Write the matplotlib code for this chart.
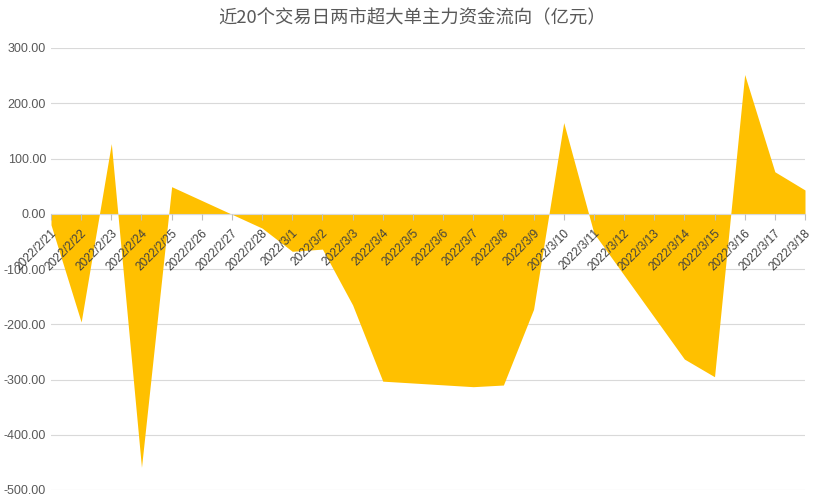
import datetime as dt
import matplotlib
matplotlib.use("Agg")
import matplotlib.pyplot as plt
import matplotlib.dates as mdates
from matplotlib.ticker import FuncFormatter
from matplotlib.transforms import ScaledTranslation

plt.rcParams['font.family'] = ['Liberation Sans', 'Noto Sans CJK SC', 'DejaVu Sans']

# 交易日与超大单净流入（亿元）
trade_days = ["2022-02-21", "2022-02-22", "2022-02-23", "2022-02-24", "2022-02-25",
              "2022-02-28", "2022-03-01", "2022-03-02", "2022-03-03", "2022-03-04",
              "2022-03-07", "2022-03-08", "2022-03-09", "2022-03-10", "2022-03-11",
              "2022-03-14", "2022-03-15", "2022-03-16", "2022-03-17", "2022-03-18"]
flows = [-20, -196, 127, -459, 49,
         -26, -68, -64, -165, -303,
         -313, -310, -173, 165, -35,
         -263, -295, 252, 76, 43]
title = "近20个交易日两市超大单主力资金流向（亿元）"

dates = [dt.datetime.strptime(d, "%Y-%m-%d") for d in trade_days]

fig = plt.figure(figsize=(8.25, 5.03), dpi=100)
ax = fig.add_axes([51 / 825, 1 - 490 / 503, (805 - 51) / 825, (490 - 48) / 503])

ax.fill_between(dates, flows, 0, color="#FFC000", linewidth=0, zorder=2)

ax.set_xlim(dates[0], dates[-1])
ax.set_ylim(-500, 300)
ax.set_yticks(range(-500, 301, 100))
ax.yaxis.set_major_formatter(FuncFormatter(lambda v, p: "%.2f" % v))
ax.grid(axis="y", color="#d9d9d9", linewidth=0.8)

ax.xaxis.set_major_locator(mdates.DayLocator())
ax.xaxis.set_major_formatter(FuncFormatter(
    lambda v, p: "{0.year}/{0.month}/{0.day}".format(mdates.num2date(v))))

# 网格在面积下方，日期标签在面积上方
ax.yaxis.set_zorder(0.5)
ax.xaxis.set_zorder(3)

for s in ["top", "right", "left"]:
    ax.spines[s].set_visible(False)
ax.spines["bottom"].set_position(("data", 0))
ax.spines["bottom"].set_color("#d9d9d9")
ax.spines["bottom"].set_zorder(3)

ax.tick_params(axis="y", length=0, pad=3.6, labelsize=9, labelcolor="#595959")
ax.tick_params(axis="x", direction="out", length=4, color="#bfbfbf",
               labelsize=8.6, labelcolor="#404040", pad=8.5)
shift = ScaledTranslation(4 / 100, 0, fig.dpi_scale_trans)
for lab in ax.get_xticklabels():
    lab.set_rotation(45)
    lab.set_ha("right")
    lab.set_va("center")
    lab.set_rotation_mode("anchor")
    lab.set_transform(lab.get_transform() + shift)

fig.text(0.4994, 0.964, title, ha="center", va="center", fontsize=13.2,
         color="#595959", family=['Noto Sans CJK SC', 'DejaVu Sans'])

fig.savefig("out.png", dpi=100)
